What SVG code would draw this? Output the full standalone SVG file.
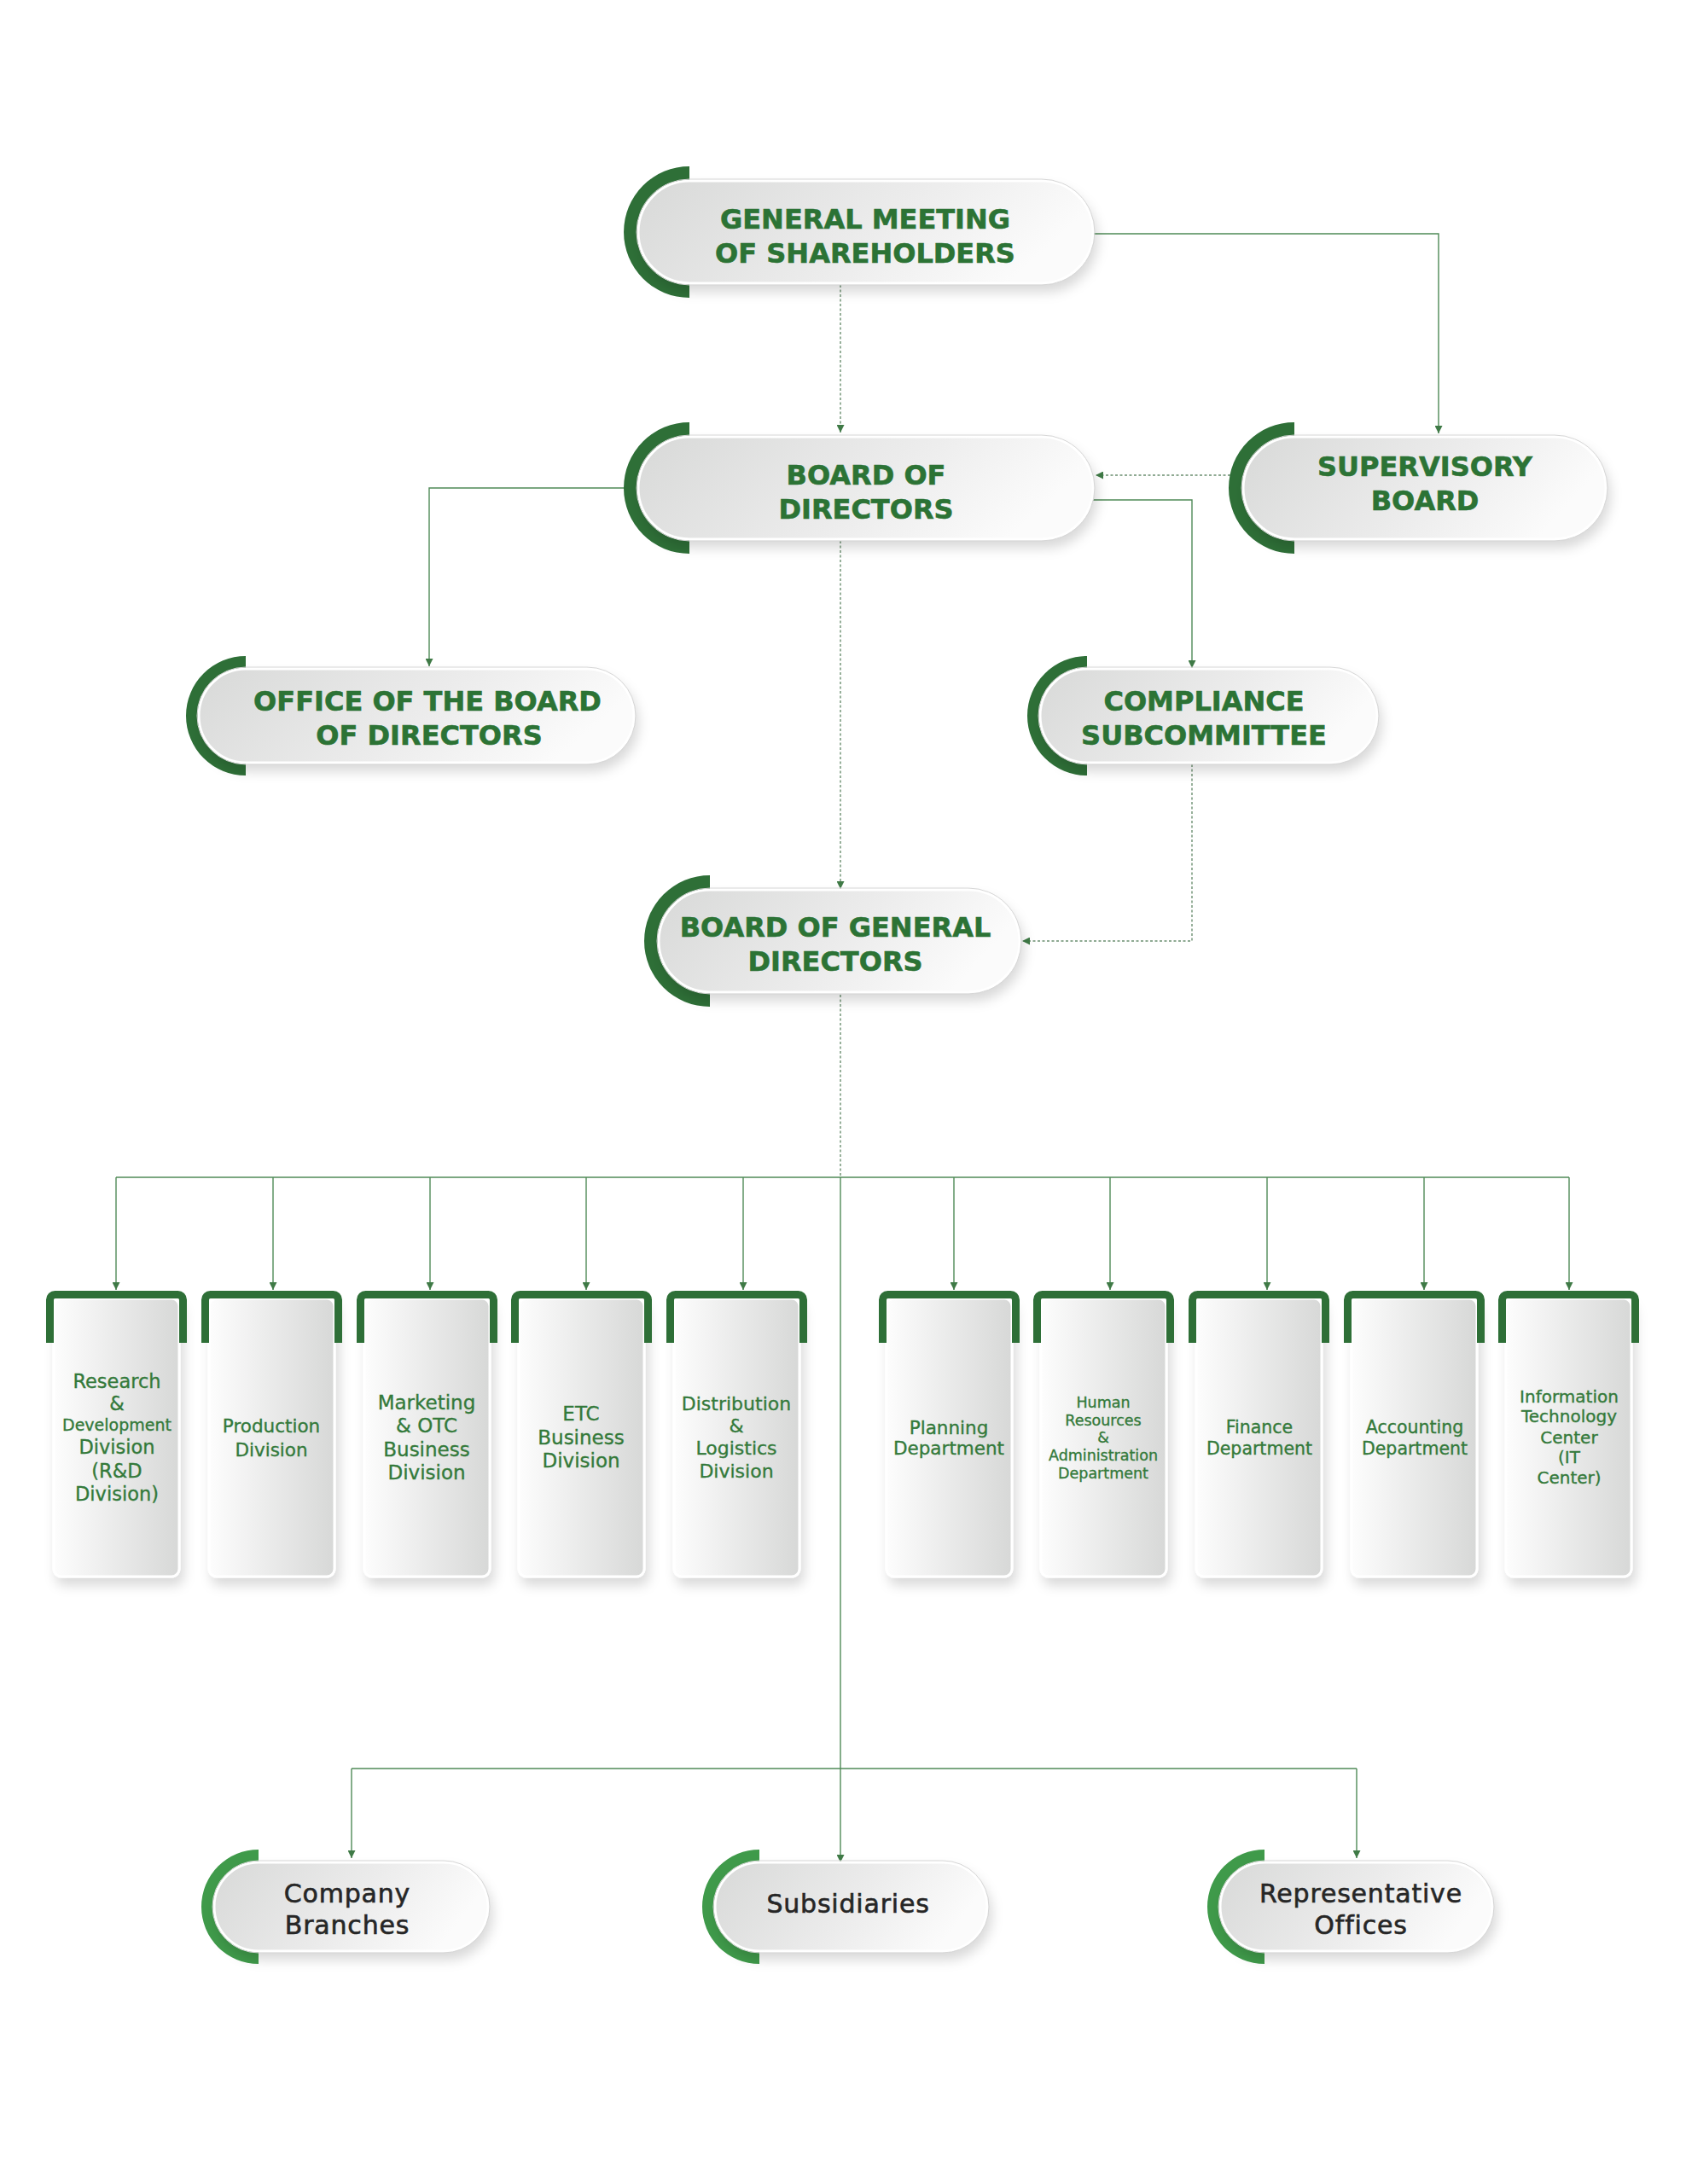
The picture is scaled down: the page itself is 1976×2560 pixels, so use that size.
<svg xmlns="http://www.w3.org/2000/svg" width="1976" height="2560" viewBox="0 0 1976 2560">
<defs>
<linearGradient id="pillG" x1="0" y1="0" x2="1" y2="0.25">
<stop offset="0" stop-color="#d8d9d8"/>
<stop offset="0.6" stop-color="#ececec"/>
<stop offset="1" stop-color="#fbfbfb"/>
</linearGradient>
<linearGradient id="boxG" x1="0" y1="0" x2="1" y2="0">
<stop offset="0" stop-color="#fdfdfd"/>
<stop offset="1" stop-color="#d7d8d7"/>
</linearGradient>
<filter id="sh" x="-20%" y="-30%" width="140%" height="170%">
<feDropShadow dx="4" dy="9" stdDeviation="7" flood-color="#000" flood-opacity="0.15"/>
</filter>
<marker id="ar" viewBox="0 0 10 10" refX="10" refY="5" markerWidth="9" markerHeight="9" markerUnits="userSpaceOnUse" orient="auto">
<path d="M0,0 L10,5 L0,10 Z" fill="#3f7a46"/>
</marker>
<style>
.pill{fill:url(#pillG);stroke:#ffffff;stroke-width:3;filter:url(#sh)}
.rim{fill:none;stroke:#d6d6d6;stroke-width:1}
.box{fill:url(#boxG);stroke:#ffffff;stroke-width:3;filter:url(#sh)}
.arc{fill:#2e6f37}
.arcL{fill:#3f9a4a}
.br{fill:none;stroke:#2e6f37;stroke-width:9}
.h{font-family:"DejaVu Sans",sans-serif;font-weight:bold;font-size:32px;fill:#2c7335;stroke:#2c7335;stroke-width:0.6;text-anchor:middle}
.b{font-family:"DejaVu Sans",sans-serif;fill:#347a3b;text-anchor:middle;stroke:#347a3b;stroke-width:0.35}
.d{font-family:"DejaVu Sans",sans-serif;font-size:30px;letter-spacing:0.8px;fill:#262626;stroke:#262626;stroke-width:0.6;text-anchor:middle}
.ln{fill:none;stroke:#4f8a57;stroke-width:1.4}
.dash{fill:none;stroke:#6b8f70;stroke-width:1.4;stroke-dasharray:3 2.5}
</style>
</defs>
<rect x="0" y="0" width="1976" height="2560" fill="#ffffff"/>

<g id="connectors">
<path class="ln" d="M1281,274 H1686 V508" marker-end="url(#ar)"/>
<path class="dash" d="M985,334 V507" marker-end="url(#ar)"/>
<path class="dash" d="M1442,557 H1284" marker-end="url(#ar)"/>
<path class="ln" d="M733,572 H503 V781" marker-end="url(#ar)"/>
<path class="ln" d="M1281,586 H1397 V783" marker-end="url(#ar)"/>
<path class="dash" d="M985,634 V1042" marker-end="url(#ar)"/>
<path class="dash" d="M1397,896 V1103 H1198" marker-end="url(#ar)"/>
<path class="dash" d="M985,1166 V1380"/>
<path class="ln" d="M985,1380 V2183" marker-end="url(#ar)"/>
<path class="ln" d="M136,1380 H1839"/>
<path class="ln" d="M136,1380 V1512" marker-end="url(#ar)"/>
<path class="ln" d="M320,1380 V1512" marker-end="url(#ar)"/>
<path class="ln" d="M504,1380 V1512" marker-end="url(#ar)"/>
<path class="ln" d="M687,1380 V1512" marker-end="url(#ar)"/>
<path class="ln" d="M871,1380 V1512" marker-end="url(#ar)"/>
<path class="ln" d="M1118,1380 V1512" marker-end="url(#ar)"/>
<path class="ln" d="M1301,1380 V1512" marker-end="url(#ar)"/>
<path class="ln" d="M1485,1380 V1512" marker-end="url(#ar)"/>
<path class="ln" d="M1669,1380 V1512" marker-end="url(#ar)"/>
<path class="ln" d="M1839,1380 V1512" marker-end="url(#ar)"/>
<path class="ln" d="M412,2073 H1590"/>
<path class="ln" d="M412,2073 V2178" marker-end="url(#ar)"/>
<path class="ln" d="M1590,2073 V2178" marker-end="url(#ar)"/>
</g>

<g id="gms">
<path class="arc" d="M808,195 A77,77 0 0 0 808,349 L808,332 A60,60 0 0 1 808,212 Z"/>
<rect class="pill" x="748" y="212" width="533" height="120" rx="60"/>
<rect class="rim" x="746" y="210" width="537" height="124" rx="62"/>
<text class="h" x="1014" y="268">GENERAL MEETING</text>
<text class="h" x="1014" y="308">OF SHAREHOLDERS</text>
</g>

<g id="bod">
<path class="arc" d="M808,495 A77,77 0 0 0 808,649 L808,632 A60,60 0 0 1 808,512 Z"/>
<rect class="pill" x="748" y="512" width="533" height="120" rx="60"/>
<rect class="rim" x="746" y="510" width="537" height="124" rx="62"/>
<text class="h" x="1015" y="568">BOARD OF</text>
<text class="h" x="1015" y="608">DIRECTORS</text>
</g>

<g id="supervisory">
<path class="arc" d="M1517,495 A77,77 0 0 0 1517,649 L1517,632 A60,60 0 0 1 1517,512 Z"/>
<rect class="pill" x="1457" y="512" width="425" height="120" rx="60"/>
<rect class="rim" x="1455" y="510" width="429" height="124" rx="62"/>
<text class="h" x="1670" y="558">SUPERVISORY</text>
<text class="h" x="1670" y="598">BOARD</text>
</g>

<g id="office">
<path class="arc" d="M288,769 A70,70 0 0 0 288,909 L288,894 A55,55 0 0 1 288,784 Z"/>
<rect class="pill" x="233" y="784" width="510" height="110" rx="55"/>
<rect class="rim" x="231" y="782" width="514" height="114" rx="57"/>
<text class="h" x="501" y="833">OFFICE OF THE BOARD</text>
<text class="h" x="503" y="873">OF DIRECTORS</text>
</g>

<g id="compliance">
<path class="arc" d="M1274,769 A70,70 0 0 0 1274,909 L1274,894 A55,55 0 0 1 1274,784 Z"/>
<rect class="pill" x="1219" y="784" width="395" height="110" rx="55"/>
<rect class="rim" x="1217" y="782" width="399" height="114" rx="57"/>
<text class="h" x="1411" y="833">COMPLIANCE</text>
<text class="h" x="1411" y="873">SUBCOMMITTEE</text>
</g>

<g id="bgd">
<path class="arc" d="M832,1026 A77,77 0 0 0 832,1180 L832,1163 A60,60 0 0 1 832,1043 Z"/>
<rect class="pill" x="772" y="1043" width="423" height="120" rx="60"/>
<rect class="rim" x="770" y="1041" width="427" height="124" rx="62"/>
<text class="h" x="979" y="1098">BOARD OF GENERAL</text>
<text class="h" x="979" y="1138">DIRECTORS</text>
</g>

<g id="rd">
<rect class="box" x="63" y="1522" width="147" height="326" rx="9"/>
<path class="br" d="M58.5,1574 V1523.5 A6,6 0 0 1 64.5,1517.5 H208.5 A6,6 0 0 1 214.5,1523.5 V1574"/>
<text class="b" x="137" y="1627" font-size="22.5">Research</text>
<text class="b" x="137" y="1653" font-size="22.5">&amp;</text>
<text class="b" x="137" y="1677" font-size="19">Development</text>
<text class="b" x="137" y="1704" font-size="22.5">Division</text>
<text class="b" x="137" y="1732" font-size="22.5">(R&amp;D</text>
<text class="b" x="137" y="1759" font-size="22.5">Division)</text>
</g>

<g id="production">
<rect class="box" x="245" y="1522" width="147" height="326" rx="9"/>
<path class="br" d="M240.5,1574 V1523.5 A6,6 0 0 1 246.5,1517.5 H390.5 A6,6 0 0 1 396.5,1523.5 V1574"/>
<text class="b" x="318" y="1679" font-size="21.5">Production</text>
<text class="b" x="318" y="1707" font-size="21.5">Division</text>
</g>

<g id="marketing">
<rect class="box" x="427" y="1522" width="147" height="326" rx="9"/>
<path class="br" d="M422.5,1574 V1523.5 A6,6 0 0 1 428.5,1517.5 H572.5 A6,6 0 0 1 578.5,1523.5 V1574"/>
<text class="b" x="500" y="1652" font-size="23">Marketing</text>
<text class="b" x="500" y="1679" font-size="23">&amp; OTC</text>
<text class="b" x="500" y="1707" font-size="23">Business</text>
<text class="b" x="500" y="1734" font-size="23">Division</text>
</g>

<g id="etc">
<rect class="box" x="608" y="1522" width="147" height="326" rx="9"/>
<path class="br" d="M603.5,1574 V1523.5 A6,6 0 0 1 609.5,1517.5 H753.5 A6,6 0 0 1 759.5,1523.5 V1574"/>
<text class="b" x="681" y="1665" font-size="23">ETC</text>
<text class="b" x="681" y="1693" font-size="23">Business</text>
<text class="b" x="681" y="1720" font-size="23">Division</text>
</g>

<g id="distribution">
<rect class="box" x="790" y="1522" width="147" height="326" rx="9"/>
<path class="br" d="M785.5,1574 V1523.5 A6,6 0 0 1 791.5,1517.5 H935.5 A6,6 0 0 1 941.5,1523.5 V1574"/>
<text class="b" x="863" y="1653" font-size="22">Distribution</text>
<text class="b" x="863" y="1679" font-size="22">&amp;</text>
<text class="b" x="863" y="1705" font-size="22">Logistics</text>
<text class="b" x="863" y="1732" font-size="22">Division</text>
</g>

<g id="planning">
<rect class="box" x="1039" y="1522" width="147" height="326" rx="9"/>
<path class="br" d="M1034.5,1574 V1523.5 A6,6 0 0 1 1040.5,1517.5 H1184.5 A6,6 0 0 1 1190.5,1523.5 V1574"/>
<text class="b" x="1112" y="1681" font-size="21.5">Planning</text>
<text class="b" x="1112" y="1705" font-size="21.5">Department</text>
</g>

<g id="hr">
<rect class="box" x="1220" y="1522" width="147" height="326" rx="9"/>
<path class="br" d="M1215.5,1574 V1523.5 A6,6 0 0 1 1221.5,1517.5 H1365.5 A6,6 0 0 1 1371.5,1523.5 V1574"/>
<text class="b" x="1293" y="1650" font-size="17.5">Human</text>
<text class="b" x="1293" y="1671" font-size="17.5">Resources</text>
<text class="b" x="1293" y="1691" font-size="17.5">&amp;</text>
<text class="b" x="1293" y="1712" font-size="17.5">Administration</text>
<text class="b" x="1293" y="1733" font-size="17.5">Department</text>
</g>

<g id="finance">
<rect class="box" x="1402" y="1522" width="147" height="326" rx="9"/>
<path class="br" d="M1397.5,1574 V1523.5 A6,6 0 0 1 1403.5,1517.5 H1547.5 A6,6 0 0 1 1553.5,1523.5 V1574"/>
<text class="b" x="1476" y="1680" font-size="20.5">Finance</text>
<text class="b" x="1476" y="1705" font-size="20.5">Department</text>
</g>

<g id="accounting">
<rect class="box" x="1584" y="1522" width="147" height="326" rx="9"/>
<path class="br" d="M1579.5,1574 V1523.5 A6,6 0 0 1 1585.5,1517.5 H1729.5 A6,6 0 0 1 1735.5,1523.5 V1574"/>
<text class="b" x="1658" y="1680" font-size="20.5">Accounting</text>
<text class="b" x="1658" y="1705" font-size="20.5">Department</text>
</g>

<g id="it">
<rect class="box" x="1765" y="1522" width="147" height="326" rx="9"/>
<path class="br" d="M1760.5,1574 V1523.5 A6,6 0 0 1 1766.5,1517.5 H1910.5 A6,6 0 0 1 1916.5,1523.5 V1574"/>
<text class="b" x="1839" y="1644" font-size="20">Information</text>
<text class="b" x="1839" y="1667" font-size="20">Technology</text>
<text class="b" x="1839" y="1692" font-size="20">Center</text>
<text class="b" x="1839" y="1715" font-size="20">(IT</text>
<text class="b" x="1839" y="1739" font-size="20">Center)</text>
</g>

<g id="branches">
<path class="arcL" d="M303,2168 A67,67 0 0 0 303,2302 L303,2287 A52,52 0 0 1 303,2183 Z"/>
<rect class="pill" x="251" y="2183" width="321" height="104" rx="52"/>
<rect class="rim" x="249" y="2181" width="325" height="108" rx="54"/>
<text class="d" x="407" y="2230">Company</text>
<text class="d" x="407" y="2267">Branches</text>
</g>

<g id="subsidiaries">
<path class="arcL" d="M890,2168 A67,67 0 0 0 890,2302 L890,2287 A52,52 0 0 1 890,2183 Z"/>
<rect class="pill" x="838" y="2183" width="319" height="104" rx="52"/>
<rect class="rim" x="836" y="2181" width="323" height="108" rx="54"/>
<text class="d" x="994" y="2242">Subsidiaries</text>
</g>

<g id="representative">
<path class="arcL" d="M1482,2168 A67,67 0 0 0 1482,2302 L1482,2287 A52,52 0 0 1 1482,2183 Z"/>
<rect class="pill" x="1430" y="2183" width="319" height="104" rx="52"/>
<rect class="rim" x="1428" y="2181" width="323" height="108" rx="54"/>
<text class="d" x="1595" y="2230">Representative</text>
<text class="d" x="1595" y="2267">Offices</text>
</g>
</svg>
